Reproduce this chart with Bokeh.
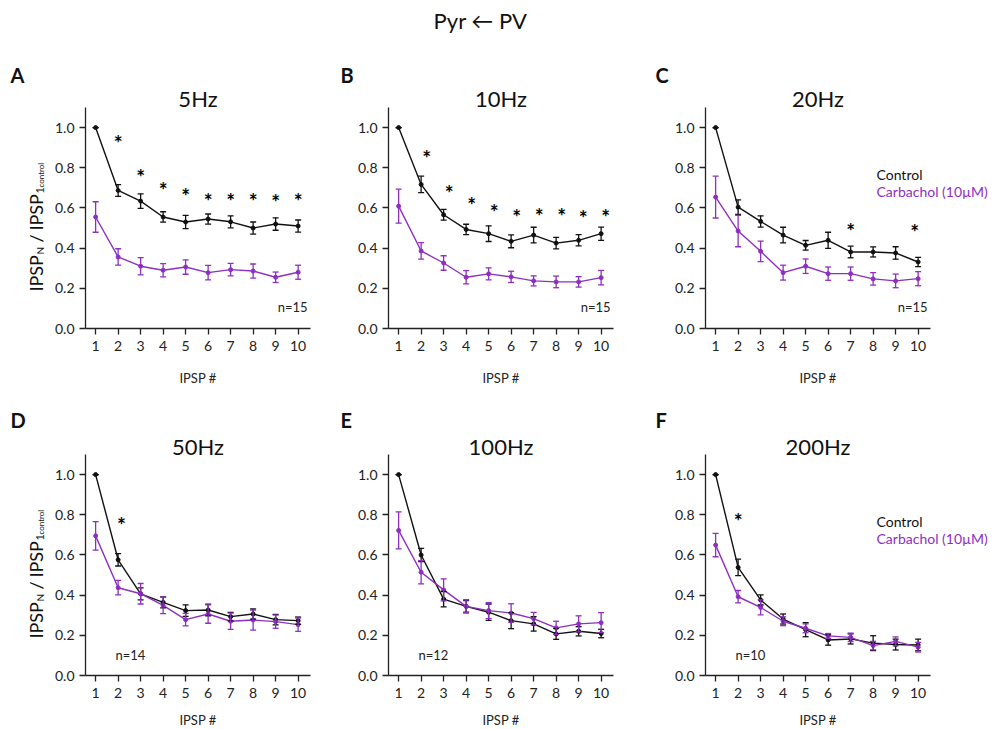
import math
from bokeh.plotting import figure
from bokeh.layouts import row, column
from bokeh.models import (Range1d, FixedTicker, PrintfTickFormatter, Label,
                          Whisker, TeeHead, ColumnDataSource)
from bokeh.embed import file_html
from bokeh.resources import INLINE
from bokeh.core.properties import value

# ---------------- data ----------------
ipsp = [1, 2, 3, 4, 5, 6, 7, 8, 9, 10]
titles = ["5Hz", "10Hz", "20Hz", "50Hz", "100Hz", "200Hz"]
letters = ["A", "B", "C", "D", "E", "F"]
n_labels = ["n=15", "n=15", "n=15", "n=14", "n=12", "n=10"]
main_title = "Pyr \u2190 PV"
legend_labels = ["Control", "Carbachol (10\u00b5M)"]

ctrl_5 = [1.0, 0.687, 0.634, 0.555, 0.530, 0.545, 0.531, 0.500, 0.520, 0.510]
ctrl_5_err = [0.0, 0.029, 0.036, 0.026, 0.033, 0.025, 0.030, 0.030, 0.031, 0.030]
carb_5 = [0.555, 0.356, 0.310, 0.290, 0.306, 0.278, 0.293, 0.286, 0.255, 0.280]
carb_5_err = [0.076, 0.041, 0.043, 0.033, 0.036, 0.036, 0.031, 0.035, 0.026, 0.035]

ctrl_10 = [1.0, 0.717, 0.566, 0.493, 0.472, 0.434, 0.465, 0.425, 0.439, 0.472]
ctrl_10_err = [0.0, 0.041, 0.027, 0.026, 0.039, 0.032, 0.039, 0.029, 0.028, 0.033]
carb_10 = [0.609, 0.386, 0.326, 0.255, 0.272, 0.257, 0.237, 0.232, 0.232, 0.253]
carb_10_err = [0.085, 0.041, 0.036, 0.033, 0.030, 0.028, 0.025, 0.029, 0.026, 0.036]

ctrl_20 = [1.0, 0.604, 0.533, 0.465, 0.414, 0.439, 0.381, 0.381, 0.376, 0.331]
ctrl_20_err = [0.0, 0.036, 0.028, 0.039, 0.024, 0.040, 0.029, 0.025, 0.031, 0.023]
carb_20 = [0.654, 0.485, 0.384, 0.278, 0.310, 0.273, 0.273, 0.247, 0.237, 0.248]
carb_20_err = [0.104, 0.078, 0.051, 0.037, 0.036, 0.033, 0.033, 0.031, 0.034, 0.035]

ctrl_50 = [1.0, 0.576, 0.406, 0.364, 0.323, 0.326, 0.293, 0.306, 0.278, 0.273]
ctrl_50_err = [0.0, 0.031, 0.030, 0.027, 0.029, 0.029, 0.021, 0.025, 0.026, 0.018]
carb_50 = [0.695, 0.437, 0.407, 0.349, 0.278, 0.306, 0.270, 0.276, 0.268, 0.253]
carb_50_err = [0.071, 0.036, 0.051, 0.041, 0.031, 0.046, 0.040, 0.050, 0.033, 0.033]

ctrl_100 = [1.0, 0.600, 0.380, 0.344, 0.315, 0.273, 0.257, 0.207, 0.220, 0.209]
ctrl_100_err = [0.0, 0.033, 0.038, 0.029, 0.041, 0.040, 0.036, 0.027, 0.023, 0.021]
carb_100 = [0.722, 0.514, 0.426, 0.344, 0.323, 0.311, 0.283, 0.237, 0.257, 0.263]
carb_100_err = [0.092, 0.058, 0.055, 0.033, 0.040, 0.046, 0.031, 0.033, 0.040, 0.050]

ctrl_200 = [1.0, 0.538, 0.376, 0.281, 0.228, 0.177, 0.182, 0.161, 0.154, 0.152]
ctrl_200_err = [0.0, 0.041, 0.025, 0.025, 0.035, 0.026, 0.025, 0.037, 0.027, 0.029]
carb_200 = [0.649, 0.392, 0.339, 0.270, 0.235, 0.197, 0.190, 0.149, 0.170, 0.141]
carb_200_err = [0.058, 0.031, 0.037, 0.022, 0.022, 0.012, 0.021, 0.021, 0.022, 0.024]

# significance markers (x position, y position)
stars_5_x = [2, 3, 4, 5, 6, 7, 8, 9, 10]
stars_5_y = [0.955, 0.786, 0.720, 0.690, 0.667, 0.667, 0.667, 0.662, 0.667]
stars_10_x = [2.25, 3.25, 4.25, 5.25, 6.25, 7.25, 8.25, 9.2, 10.2]
stars_10_y = [0.882, 0.707, 0.646, 0.613, 0.589, 0.594, 0.594, 0.584, 0.589]
stars_20_x = [7, 9.85]
stars_20_y = [0.517, 0.513]
stars_50_x = [2.15]
stars_50_y = [0.783]
stars_100_x = []
stars_100_y = []
stars_200_x = [2.0]
stars_200_y = [0.800]

y_ticks = [0.0, 0.2, 0.4, 0.6, 0.8, 1.0]

panels = [
    (ctrl_5, ctrl_5_err, carb_5, carb_5_err, stars_5_x, stars_5_y),
    (ctrl_10, ctrl_10_err, carb_10, carb_10_err, stars_10_x, stars_10_y),
    (ctrl_20, ctrl_20_err, carb_20, carb_20_err, stars_20_x, stars_20_y),
    (ctrl_50, ctrl_50_err, carb_50, carb_50_err, stars_50_x, stars_50_y),
    (ctrl_100, ctrl_100_err, carb_100, carb_100_err, stars_100_x, stars_100_y),
    (ctrl_200, ctrl_200_err, carb_200, carb_200_err, stars_200_x, stars_200_y),
]

# ---------------- style / layout ----------------
FONT = "Lato"
BLACK = "#111111"
PURPLE = "#8e2fc2"
AX = "#222222"
X0, X1 = 0.55, 10.55          # axis extent
Y0, Y1 = 0.0, 1.1
FW, FH = 225, 221             # axis box size in px
PPX = FW / (X1 - X0)
PPY = FH / (Y1 - Y0)
COLW = [325, 325, 343]
LEFT = [85, 63, 55]
ROWH = [400, 329]
TOP = [107, 54]
LETTER_DX = [-75, -48, -50]
LETTER_DY = [33, 35]
TITLE_DY = [9, 8]
XLABEL_STANDOFF = [16, 11]


def dx(px):
    return X0 + px / PPX


def dy(px):
    return Y0 + px / PPY


def make_panel(i):
    r, c = divmod(i, 3)
    ctrl, ctrl_err, carb, carb_err, sx, sy = panels[i]
    w, h = COLW[c], ROWH[r]
    bottom = h - TOP[r] - FH
    p = figure(width=w, height=h, output_backend="svg", toolbar_location=None,
               x_range=Range1d(dx(-LEFT[c]), dx(w - LEFT[c])),
               y_range=Range1d(dy(-bottom), dy(FH + TOP[r])),
               min_border=0, min_border_left=0, min_border_right=0,
               min_border_top=0, min_border_bottom=0)
    p.outline_line_color = None
    p.xgrid.grid_line_color = None
    p.ygrid.grid_line_color = None
    p.background_fill_color = "white"
    p.border_fill_color = "white"

    xa, ya = p.xaxis[0], p.yaxis[0]
    xa.fixed_location = Y0
    xa.bounds = (X0, X1)
    ya.fixed_location = X0
    ya.bounds = (Y0, Y1)
    for ax in (xa, ya):
        ax.axis_line_color = AX
        ax.axis_line_width = 1.3
        ax.major_tick_line_color = AX
        ax.major_tick_line_width = 1.3
        ax.major_tick_in = 0
        ax.major_tick_out = 6
        ax.minor_tick_line_color = None
        ax.major_label_text_font = FONT
        ax.major_label_text_font_size = "14px"
        ax.major_label_text_color = AX
    xa.ticker = FixedTicker(ticks=ipsp)
    xa.major_label_standoff = 6
    xa.axis_label = "IPSP #"
    xa.axis_label_text_font = FONT
    xa.axis_label_text_font_size = "13px"
    xa.axis_label_text_font_style = "normal"
    xa.axis_label_text_color = AX
    xa.axis_label_standoff = XLABEL_STANDOFF[r]
    ya.ticker = FixedTicker(ticks=y_ticks)
    ya.formatter = PrintfTickFormatter(format="%.1f")
    ya.major_label_standoff = 5

    series = [(ctrl, ctrl_err, BLACK), (carb, carb_err, PURPLE)]
    for vals, errs, col in series:
        src = ColumnDataSource(dict(
            x=ipsp, y=vals,
            lo=[v - e for v, e in zip(vals, errs)],
            hi=[v + e for v, e in zip(vals, errs)]))
        p.line("x", "y", source=src, line_color=col, line_width=1.4)
        wk = Whisker(source=src, base="x", lower="lo", upper="hi",
                     line_color=col, line_width=1.3, level="glyph",
                     lower_head=TeeHead(size=6, line_color=col, line_width=1.3),
                     upper_head=TeeHead(size=6, line_color=col, line_width=1.3))
        p.add_layout(wk)
        p.scatter("x", "y", source=src, size=4, color=col)

    if sx:
        p.text(x=sx, y=sy, text=["*"] * len(sx), text_font=value(FONT),
               text_font_size="21px", text_font_style="bold", text_color="#000000",
               text_align="center", text_baseline="middle", y_offset=6)

    # panel title and letter
    p.add_layout(Label(x=(X0 + X1) / 2, y=dy(FH + TITLE_DY[r]), text=titles[i],
                       text_font=FONT, text_font_size="22px", text_color=BLACK,
                       text_align="center", text_baseline="alphabetic"))
    p.add_layout(Label(x=dx(LETTER_DX[c]), y=dy(FH + LETTER_DY[r]), text=letters[i],
                       text_font=FONT, text_font_size="20px",
                       text_font_style="bold", text_color=BLACK,
                       text_align="left", text_baseline="alphabetic"))
    # n label
    if r == 0:
        p.add_layout(Label(x=dx(FW - 3), y=dy(22), text=n_labels[i],
                           text_font=FONT, text_font_size="13px", text_color=AX,
                           text_align="right", text_baseline="alphabetic"))
    else:
        p.add_layout(Label(x=dx(30), y=dy(21), text=n_labels[i],
                           text_font=FONT, text_font_size="13px", text_color=AX,
                           text_align="left", text_baseline="alphabetic"))
    # legend text
    if c == 2:
        p.add_layout(Label(x=dx(171), y=dy(154), text=legend_labels[0],
                           text_font=FONT, text_font_size="14px", text_color=BLACK,
                           text_align="left", text_baseline="alphabetic"))
        p.add_layout(Label(x=dx(171), y=dy(137), text=legend_labels[1],
                           text_font=FONT, text_font_size="14px", text_color=PURPLE,
                           text_align="left", text_baseline="alphabetic"))
    # y axis label with subscripts (rotated)
    if c == 0:
        pieces = [  # text, size, baseline px from axis, start px above axis bottom
            ("IPSP", "18px", -50, 37),
            ("N", "10px", -46, 74),
            ("/", "18px", -50, 86),
            ("IPSP", "18px", -50, 98),
            ("1", "11px", -46, 135),
            ("control", "8px", -45, 141),
        ]
        for t, fs, bx, by in pieces:
            p.add_layout(Label(x=dx(bx), y=dy(by), text=t, angle=math.pi / 2,
                               text_font=FONT, text_font_size=fs, text_color=BLACK,
                               text_align="left", text_baseline="alphabetic"))
    # main title
    if i == 1:
        p.add_layout(Label(x=dx(92), y=dy(FH + 87), text=main_title,
                           text_font=FONT, text_font_size="22px", text_color=BLACK,
                           text_align="center", text_baseline="alphabetic"))
    return p


figs = [make_panel(i) for i in range(6)]
layout = column(row(*figs[:3], spacing=0), row(*figs[3:], spacing=0), spacing=0)

open("out.html", "w").write(file_html(layout, INLINE))
